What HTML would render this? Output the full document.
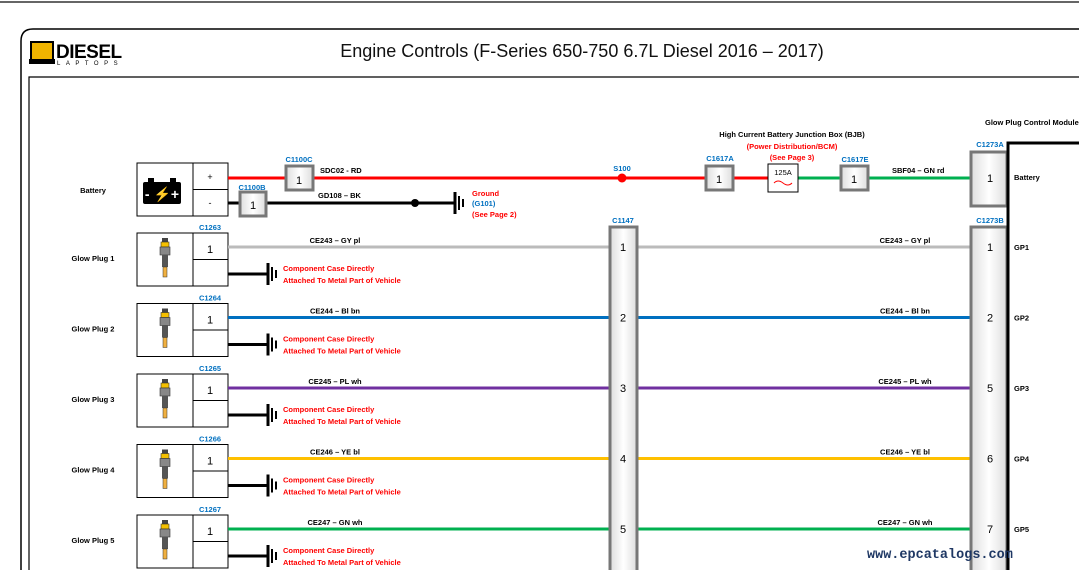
<!DOCTYPE html>
<html><head><meta charset="utf-8"><style>
body{margin:0;width:1079px;height:570px;overflow:hidden;background:#fff}
svg{display:block;font-family:"Liberation Sans",sans-serif}
.s{font-size:7.5px;font-weight:bold}
.b{fill:#0070c0}.r{fill:#f00}
</style></head><body>
<svg width="1079" height="570" viewBox="0 0 1079 570">
<defs>
<linearGradient id="cg" x1="0" x2="1"><stop offset="0" stop-color="#ddd"/><stop offset=".5" stop-color="#fff"/><stop offset="1" stop-color="#ddd"/></linearGradient>
<g id="gp"><rect x="-3" y="0" width="6" height="4" fill="#444"/><rect x="-4" y="4" width="8" height="5" fill="#f5c000" stroke="#333" stroke-width=".6"/><rect x="-5" y="9" width="10" height="8" fill="#888" stroke="#333" stroke-width=".6"/><rect x="-3" y="17" width="6" height="12" fill="#555"/><rect x="-2" y="29" width="4" height="10" fill="#f0b040" stroke="#333" stroke-width=".5"/></g>
<g id="gnd"><line x1="0" y1="-11" x2="0" y2="11" stroke="#000" stroke-width="3"/><line x1="4" y1="-7" x2="4" y2="7" stroke="#000" stroke-width="2"/><line x1="8" y1="-4" x2="8" y2="4" stroke="#000" stroke-width="2"/></g>
<g id="row"><rect x="137" y="233" width="56" height="53" fill="#fff" stroke="#000"/><use href="#gp" x="165" y="238"/><rect x="193" y="233" width="35" height="26.5" fill="#fff" stroke="#000"/><rect x="193" y="259.5" width="35" height="26.5" fill="#fff" stroke="#000"/><text x="210" y="253" font-size="11" text-anchor="middle">1</text><line x1="228" y1="274" x2="268" y2="274" stroke="#000" stroke-width="3"/><use href="#gnd" x="268" y="274"/><text x="283" y="271" class="s r">Component Case Directly</text><text x="283" y="283" class="s r">Attached To Metal Part of Vehicle</text></g>
</defs>
<line x1="0" y1="2" x2="1079" y2="2" stroke="#333" stroke-width="1.5"/>
<path d="M21 570 V41 Q21 29 33 29 H1079" fill="none" stroke="#000" stroke-width="1.5"/>
<path d="M29 570 V77 H1079" fill="none" stroke="#000" stroke-width="1.2"/>
<rect x="31" y="42" width="22" height="18" fill="#f0b400" stroke="#000" stroke-width="2"/>
<rect x="29" y="59" width="26" height="5" fill="#000"/>
<text x="56" y="58" font-size="19" font-weight="bold" letter-spacing="-0.5">DIESEL</text>
<text x="57" y="65" font-size="6" letter-spacing="5.5">LAPTOPS</text>
<text x="582" y="57" font-size="18" text-anchor="middle" fill="#111">Engine Controls (F-Series 650-750 6.7L Diesel 2016 – 2017)</text>
<text x="93" y="193" class="s" text-anchor="middle">Battery</text>
<rect x="137" y="163" width="56" height="53" fill="#fff" stroke="#000"/>
<rect x="193" y="163" width="35" height="26.5" fill="#fff" stroke="#000"/>
<rect x="193" y="189.5" width="35" height="26.5" fill="#fff" stroke="#000"/>
<text x="210" y="180" font-size="9" text-anchor="middle">+</text><text x="210" y="206" font-size="9" text-anchor="middle">-</text>
<rect x="143" y="182" width="38" height="22" rx="2" fill="#000"/><rect x="148" y="178" width="6" height="4" fill="#000"/><rect x="170" y="178" width="6" height="4" fill="#000"/>
<text x="162" y="199" font-size="14" fill="#fff" font-weight="bold" text-anchor="middle">- <tspan fill="#f5c000">⚡</tspan>+</text>
<line x1="228" y1="178" x2="971" y2="178" stroke="#f00" stroke-width="3"/>
<line x1="798" y1="178" x2="971" y2="178" stroke="#00b050" stroke-width="3"/>
<line x1="228" y1="203" x2="455" y2="203" stroke="#000" stroke-width="3"/>
<circle cx="415" cy="203" r="4" fill="#000"/>
<use href="#gnd" x="455" y="203"/>
<text x="472" y="196" class="s r">Ground</text><text x="472" y="206" class="s b">(G101)</text><text x="472" y="217" class="s r">(See Page 2)</text>
<circle cx="622" cy="178" r="4.5" fill="#f00"/><text x="622" y="171" class="s b" text-anchor="middle">S100</text>
<!-- rows -->
<use href="#row" y="0"/><use href="#row" y="70.5"/><use href="#row" y="141"/><use href="#row" y="211.5"/><use href="#row" y="282"/>
<g class="s b" text-anchor="middle"><text x="210" y="230">C1263</text><text x="210" y="300.5">C1264</text><text x="210" y="371">C1265</text><text x="210" y="441.5">C1266</text><text x="210" y="512">C1267</text></g>
<g class="s" text-anchor="middle"><text x="93" y="261">Glow Plug 1</text><text x="93" y="331.5">Glow Plug 2</text><text x="93" y="402">Glow Plug 3</text><text x="93" y="472.5">Glow Plug 4</text><text x="93" y="543">Glow Plug 5</text></g>
<g stroke-width="3">
<line x1="228" y1="247" x2="971" y2="247" stroke="#bbb"/>
<line x1="228" y1="317.5" x2="971" y2="317.5" stroke="#0070c0"/>
<line x1="228" y1="388" x2="971" y2="388" stroke="#7030a0"/>
<line x1="228" y1="458.5" x2="971" y2="458.5" stroke="#ffc000"/>
<line x1="228" y1="529" x2="971" y2="529" stroke="#00b050"/>
</g>
<g class="s" text-anchor="middle">
<text x="335" y="243">CE243 – GY pl</text><text x="905" y="243">CE243 – GY pl</text>
<text x="335" y="313.5">CE244 – Bl bn</text><text x="905" y="313.5">CE244 – Bl bn</text>
<text x="335" y="384">CE245 – PL wh</text><text x="905" y="384">CE245 – PL wh</text>
<text x="335" y="454.5">CE246 – YE bl</text><text x="905" y="454.5">CE246 – YE bl</text>
<text x="335" y="525">CE247 – GN wh</text><text x="905" y="525">CE247 – GN wh</text>
</g>
<g fill="url(#cg)" stroke="#777" stroke-width="3">
<rect x="286" y="166" width="27" height="24"/><rect x="240" y="192" width="26" height="24"/>
<rect x="706" y="166" width="27" height="24"/><rect x="841" y="166" width="27" height="24"/>
<rect x="971" y="152" width="36" height="54"/>
<rect x="610" y="227" width="27" height="350"/><rect x="971" y="227" width="36" height="350"/>
</g>
<text x="299" y="184" font-size="11" text-anchor="middle">1</text><text x="253" y="209" font-size="11" text-anchor="middle">1</text>
<text x="719" y="183" font-size="11" text-anchor="middle">1</text><text x="854" y="183" font-size="11" text-anchor="middle">1</text>
<text x="990" y="182" font-size="11" text-anchor="middle">1</text>
<g font-size="11" text-anchor="middle">
<text x="623" y="251">1</text><text x="623" y="321.5">2</text><text x="623" y="392">3</text><text x="623" y="462.5">4</text><text x="623" y="533">5</text>
<text x="990" y="251">1</text><text x="990" y="321.5">2</text><text x="990" y="392">5</text><text x="990" y="462.5">6</text><text x="990" y="533">7</text>
</g>
<g class="s"><text x="1014" y="250">GP1</text><text x="1014" y="320.5">GP2</text><text x="1014" y="391">GP3</text><text x="1014" y="461.5">GP4</text><text x="1014" y="532">GP5</text></g>
<text x="299" y="162" class="s b" text-anchor="middle">C1100C</text><text x="252" y="190" class="s b" text-anchor="middle">C1100B</text>
<text x="720" y="161" class="s b" text-anchor="middle">C1617A</text><text x="855" y="162" class="s b" text-anchor="middle">C1617E</text>
<text x="990" y="147" class="s b" text-anchor="middle">C1273A</text><text x="990" y="223" class="s b" text-anchor="middle">C1273B</text>
<text x="623" y="223" class="s b" text-anchor="middle">C1147</text>
<text x="320" y="173" class="s">SDC02 - RD</text><text x="318" y="198" class="s">GD108 – BK</text>
<text x="892" y="173" class="s">SBF04 – GN rd</text>
<rect x="768" y="164" width="30" height="28" fill="#fff" stroke="#000"/>
<text x="783" y="175" font-size="7.5" text-anchor="middle">125A</text>
<path d="M774 183 q4 -4 9 0 t9 0" fill="none" stroke="#f00" stroke-width="1"/>
<text x="792" y="137" class="s" text-anchor="middle">High Current Battery Junction Box (BJB)</text>
<text x="792" y="149" class="s r" text-anchor="middle">(Power Distribution/BCM)</text>
<text x="792" y="160" class="s r" text-anchor="middle">(See Page 3)</text>
<text x="985" y="125" class="s">Glow Plug Control Module</text>
<path d="M1008 570 V143 H1079" fill="none" stroke="#000" stroke-width="3"/>
<text x="1014" y="180" class="s">Battery</text>
<text x="867" y="558" font-family="Liberation Mono" font-size="13.5" font-weight="bold" fill="#1f3864">www.epcatalogs.com</text>
</svg>
</body></html>
